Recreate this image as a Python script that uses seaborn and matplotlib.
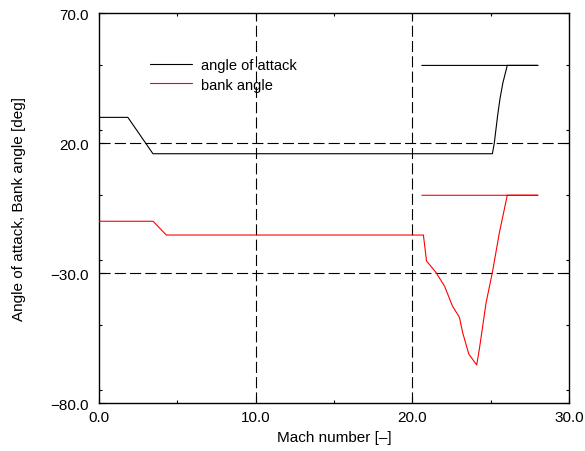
import numpy as np
import pandas as pd
import matplotlib
matplotlib.use('Agg')
import matplotlib.pyplot as plt
import seaborn as sb
from matplotlib.ticker import MultipleLocator, FuncFormatter

# data (Mach number vs angles)
aoa_mach = [0.0, 1.85, 3.45, 25.1, 25.22, 25.43, 25.58, 25.77, 26.05, 28.0, 20.6]
aoa_deg = [30.0, 30.0, 16.0, 16.0, 20.0, 30.5, 37.0, 43.3, 50.0, 50.0, 50.0]

bank_mach = [0.0, 3.46, 4.3, 20.7, 20.9, 21.5, 22.05, 22.55, 23.0, 23.2, 23.6,
             24.1, 24.27, 24.7, 25.1, 25.55, 26.05, 28.0, 20.6]
bank_deg = [-10.0, -10.0, -15.3, -15.3, -25.3, -29.7, -35.0, -42.6, -47.0, -52.8, -61.2,
            -65.3, -59.2, -41.3, -29.7, -14.3, 0.0, 0.0, 0.0]

x_ticks = [0, 10, 20, 30]
y_ticks = [-80, -30, 20, 70]

sb.set_style('ticks')
plt.rcParams['font.family'] = ['Liberation Sans', 'DejaVu Sans']
plt.rcParams['lines.scale_dashes'] = False
plt.rcParams['text.color'] = 'black'
plt.rcParams['axes.labelcolor'] = 'black'
plt.rcParams['xtick.color'] = 'black'
plt.rcParams['ytick.color'] = 'black'

aoa = pd.DataFrame({'mach': aoa_mach, 'angle': aoa_deg})
bank = pd.DataFrame({'mach': bank_mach, 'angle': bank_deg})

fig = plt.figure(figsize=(5.85, 4.52), dpi=100)
ax = fig.add_axes([0.169, 0.106, 0.804, 0.862])

# dashed reference lines at interior major ticks
for xv in x_ticks[1:-1]:
    ax.axvline(xv, color='black', lw=0.8, ls=(0, (8, 3)), zorder=1)
for yv in y_ticks[1:-1]:
    ax.axhline(yv, color='black', lw=0.8, ls=(0, (8, 3)), zorder=1)

sb.lineplot(data=aoa, x='mach', y='angle', sort=False, estimator=None,
            color='black', lw=0.8, label='angle of attack', ax=ax, zorder=3)
sb.lineplot(data=bank, x='mach', y='angle', sort=False, estimator=None,
            color='red', lw=0.8, label='bank angle', ax=ax, zorder=3)

ax.set_xlim(0, 30)
ax.set_ylim(-80, 70)
ax.set_xticks(x_ticks)
ax.set_yticks(y_ticks)
ax.xaxis.set_minor_locator(MultipleLocator(5))
ax.yaxis.set_minor_locator(MultipleLocator(25))
fmt = FuncFormatter(lambda v, p: f'{v:.1f}'.replace('-', '\u2212'))
ax.xaxis.set_major_formatter(fmt)
ax.yaxis.set_major_formatter(fmt)
ax.tick_params(which='both', direction='in', top=True, right=True, labelsize=11, width=0.8,
               colors='black')
ax.tick_params(which='major', length=4)
ax.tick_params(axis='y', which='major', pad=7)
ax.tick_params(axis='x', which='major', pad=5)
ax.tick_params(which='minor', length=2)
for s in ax.spines.values():
    s.set_linewidth(1.0)
    s.set_color('black')

ax.set_xlabel('Mach number [\u2013]', fontsize=11, labelpad=4)
ax.set_ylabel('Angle of attack, Bank angle [deg]', fontsize=11, labelpad=18)

ax.legend(loc='upper left', bbox_to_anchor=(0.08, 0.92), frameon=False, fontsize=10.5,
          handlelength=2.9, handletextpad=0.6, labelspacing=0.4)

fig.savefig('out.png', dpi=100)
